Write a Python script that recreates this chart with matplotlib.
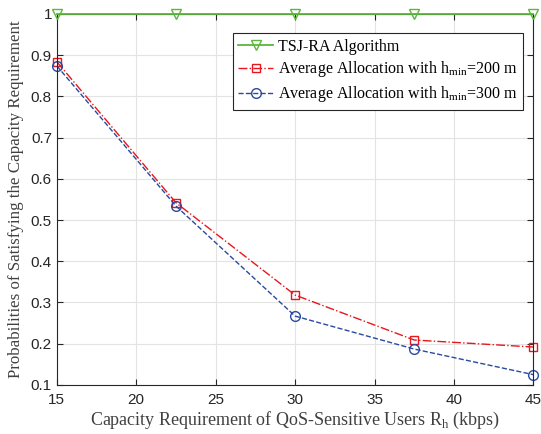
import numpy as np
import matplotlib.pyplot as plt

# capacity requirement (kbps)
rate = [15, 22.5, 30, 37.5, 45]
tsj_ra = [1.0, 1.0, 1.0, 1.0, 1.0]
avg_200 = [0.884, 0.542, 0.318, 0.209, 0.192]
avg_300 = [0.874, 0.534, 0.267, 0.187, 0.125]

xticks = [15, 20, 25, 30, 35, 40, 45]
yticks = [0.1, 0.2, 0.3, 0.4, 0.5, 0.6, 0.7, 0.8, 0.9, 1.0]

plt.rcParams['mathtext.fontset'] = 'custom'
plt.rcParams['mathtext.rm'] = 'Liberation Serif'

fig = plt.figure(figsize=(5.41, 4.34), dpi=100)
ax = fig.add_axes([0.105, 0.113, 0.881, 0.855])

ax.plot(rate, tsj_ra, color='#5cb83a', marker='v', markersize=7, markerfacecolor='none',
        markeredgewidth=1.0, linewidth=1.3, label='TSJ-RA Algorithm', clip_on=False, zorder=5)
ax.plot(rate, avg_200, color='#e8161d', linestyle='-.', marker='s', markersize=6, markerfacecolor='none',
        markeredgewidth=1.0, linewidth=1.0, label='Average Allocation with h$_{\\rm min}$=200 m', clip_on=False)
ax.plot(rate, avg_300, color='#2a4a9f', linestyle='--', marker='o', markersize=7, markerfacecolor='none',
        markeredgewidth=1.0, linewidth=1.0, label='Average Allocation with h$_{\\rm min}$=300 m', clip_on=False)

ax.set_xlim(15, 45)
ax.set_ylim(0.1, 1.0)
ax.set_xticks(xticks)
ax.set_yticks(yticks)
ax.set_yticklabels(['0.1', '0.2', '0.3', '0.4', '0.5', '0.6', '0.7', '0.8', '0.9', '1'])
ax.grid(True, color='#e3e3e3', linewidth=0.8)
ax.set_axisbelow(True)
ax.tick_params(direction='in', top=True, right=True, labelsize=11, colors='#262626', length=4)
ax.tick_params(axis='x', pad=6)
for lab in ax.get_xticklabels() + ax.get_yticklabels():
    lab.set_family('Liberation Sans')
for s in ax.spines.values():
    s.set_color('#262626')
    s.set_linewidth(0.8)

ax.set_xlabel('Capacity Requirement of QoS-Sensitive Users R$_{\\rm h}$ (kbps)',
              family='Liberation Serif', fontsize=13, color='#404040', labelpad=2)
ax.set_ylabel('Probabilities of Satisfying the Capacity Requirement',
              family='Liberation Serif', fontsize=12.2, color='#404040', labelpad=5)

leg = ax.legend(loc='upper right', bbox_to_anchor=(0.995, 0.97), prop={'family': 'Liberation Serif', 'size': 11.5},
                fancybox=False, edgecolor='#262626', framealpha=1, handlelength=2.2,
                borderpad=0.35, labelspacing=0.3, handletextpad=0.3)
leg.get_frame().set_linewidth(0.8)

fig.savefig('out.png', dpi=100)
